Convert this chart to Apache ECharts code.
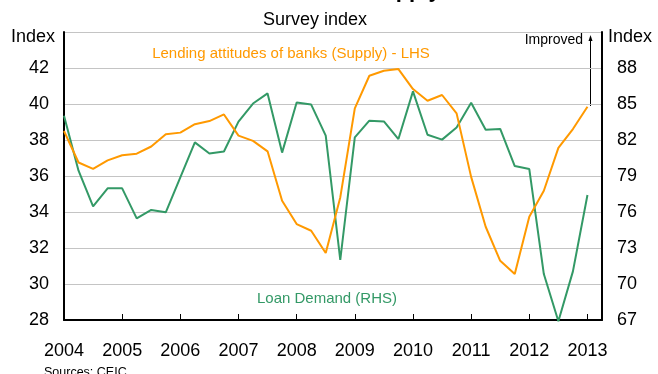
<!DOCTYPE html>
<html>
<head>
<meta charset="utf-8">
<script src="https://cdn.jsdelivr.net/npm/echarts@6/dist/echarts.min.js"></script>
<style>
  html, body { margin: 0; padding: 0; background: #fff; }
  #chart { width: 658px; height: 374px; }
</style>
</head>
<body>
<div id="chart"></div>
<script>
// Quarterly survey readings, 2004 Q1 to 2013 Q1
const startYear = 2004;
const yearTicks = [2004, 2005, 2006, 2007, 2008, 2009, 2010, 2011, 2012, 2013];

// Lending attitudes of banks (supply), left-hand scale
const supplyIndex = [
  38.5, 36.75, 36.4, 36.87, 37.15, 37.24, 37.64, 38.32,
  38.41, 38.88, 39.05, 39.42, 38.24, 37.95, 37.37, 34.63,
  33.33, 32.96, 31.72, 34.81, 39.76, 41.57, 41.85, 41.94,
  40.83, 40.18, 40.5, 39.48, 35.95, 33.18, 31.29, 30.55,
  33.74, 35.18, 37.56, 38.61, 39.85
];

// Loan demand, right-hand scale
const demandIndex = [
  84.03, 79.44, 76.47, 77.97, 77.97, 75.47, 76.17, 75.97,
  78.88, 81.8, 80.88, 81.04, 83.53, 85.04, 85.88, 80.95,
  85.13, 84.95, 82.36, 72.0, 82.22, 83.61, 83.55, 82.08,
  86.05, 82.44, 82.03, 83.05, 85.1, 82.86, 82.92, 79.83,
  79.58, 70.83, 66.9, 71.05, 77.42
];

const leftTicks = [28, 30, 32, 34, 36, 38, 40, 42];
const rightTicks = [67, 70, 73, 76, 79, 82, 85, 88];

const ORANGE = '#ff9900';
const GREEN = '#339966';
const FONT = 'Liberation Sans, Arial, sans-serif';

const toPairs = (vals) => vals.map((v, i) => [startYear + i / 4, v]);

const chart = echarts.init(document.getElementById('chart'), null, { renderer: 'canvas' });

const axisLabelStyle = { color: '#000', fontSize: 18, fontFamily: FONT };

chart.setOption({
  animation: false,
  backgroundColor: '#fff',
  grid: { left: 64, right: 56, top: 32, bottom: 54, containLabel: false },
  xAxis: {
    type: 'value',
    min: yearTicks[0],
    max: 2013.25,
    interval: 1,
    axisLine: { show: true, lineStyle: { color: '#000', width: 2 } },
    axisTick: { show: true, inside: true, length: 6, lineStyle: { color: '#000', width: 1 } },
    splitLine: { show: false },
    axisLabel: Object.assign({}, axisLabelStyle, {
      margin: 22,
      showMaxLabel: false,
      formatter: (v) => (yearTicks.indexOf(v) >= 0 ? String(v) : '')
    })
  },
  yAxis: [
    {
      type: 'value',
      min: leftTicks[0],
      max: 44,
      interval: 2,
      position: 'left',
      axisLine: { show: true, lineStyle: { color: '#000', width: 2 } },
      axisTick: { show: false },
      splitLine: { show: true, lineStyle: { color: '#c4c4c4', width: 1 } },
      axisLabel: Object.assign({}, axisLabelStyle, {
        margin: 15,
        showMaxLabel: false,
        formatter: (v) => (leftTicks.indexOf(v) >= 0 ? String(v) : '')
      })
    },
    {
      type: 'value',
      min: rightTicks[0],
      max: 91,
      interval: 3,
      position: 'right',
      axisLine: { show: true, lineStyle: { color: '#000', width: 2 } },
      axisTick: { show: false },
      splitLine: { show: false },
      axisLabel: Object.assign({}, axisLabelStyle, {
        margin: 15,
        showMaxLabel: false,
        formatter: (v) => (rightTicks.indexOf(v) >= 0 ? String(v) : '')
      })
    }
  ],
  series: [
    {
      name: 'Lending attitudes of banks (Supply) - LHS',
      type: 'line',
      yAxisIndex: 0,
      data: toPairs(supplyIndex),
      showSymbol: false,
      symbol: 'none',
      lineStyle: { color: ORANGE, width: 2 },
      z: 3
    },
    {
      name: 'Loan Demand (RHS)',
      type: 'line',
      yAxisIndex: 1,
      data: toPairs(demandIndex),
      showSymbol: false,
      symbol: 'none',
      clip: false,
      lineStyle: { color: GREEN, width: 2 },
      z: 2
    }
  ],
  graphic: [
    {
      type: 'text', left: 'center', top: -20,
      style: { text: 'China: Loan Demand and Supply Conditions', fill: '#000',
               font: 'bold 22px ' + FONT }
    },
    {
      type: 'text', x: 315, y: 20,
      style: { text: 'Survey index', fill: '#000', font: '18px ' + FONT,
               textAlign: 'center', textVerticalAlign: 'middle' }
    },
    {
      type: 'text', x: 11, y: 37,
      style: { text: 'Index', fill: '#000', font: '18px ' + FONT,
               textAlign: 'left', textVerticalAlign: 'middle' }
    },
    {
      type: 'text', x: 608, y: 37,
      style: { text: 'Index', fill: '#000', font: '18px ' + FONT,
               textAlign: 'left', textVerticalAlign: 'middle' }
    },
    {
      type: 'text', x: 291, y: 54,
      style: { text: 'Lending attitudes of banks (Supply) - LHS', fill: ORANGE,
               font: '15px ' + FONT, textAlign: 'center', textVerticalAlign: 'middle' }
    },
    {
      type: 'text', x: 327, y: 299,
      style: { text: 'Loan Demand (RHS)', fill: GREEN,
               font: '15px ' + FONT, textAlign: 'center', textVerticalAlign: 'middle' }
    },
    {
      type: 'text', x: 583, y: 40,
      style: { text: 'Improved', fill: '#000', font: '14px ' + FONT,
               textAlign: 'right', textVerticalAlign: 'middle' }
    },
    {
      type: 'line',
      shape: { x1: 590.5, y1: 38, x2: 590.5, y2: 106 },
      style: { stroke: '#000', lineWidth: 1 }
    },
    {
      type: 'polygon',
      shape: { points: [[590.5, 35], [588.5, 41], [592.5, 41]] },
      style: { fill: '#000' }
    },
    {
      type: 'text', x: 44, y: 366,
      style: { text: 'Sources: CEIC', fill: '#000', font: '12.5px ' + FONT,
               textAlign: 'left', textVerticalAlign: 'top' }
    }
  ]
});
</script>
</body>
</html>
